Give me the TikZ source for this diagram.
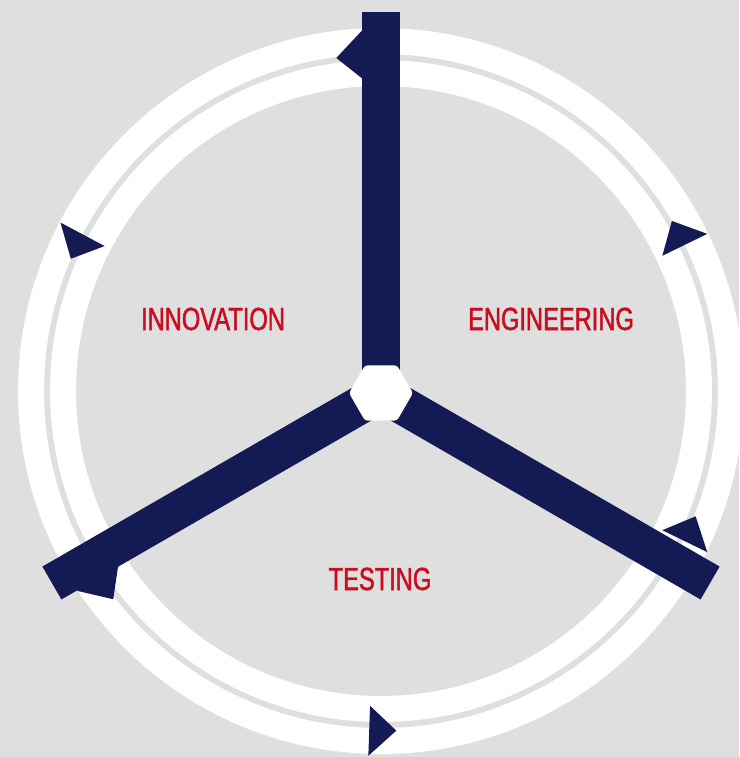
\documentclass[tikz,border=0pt]{standalone}
\usepackage{fontspec}
\setmainfont{Liberation Sans}[FakeStretch=0.74, FakeBold=1.5]
\usetikzlibrary{shapes,positioning}
\definecolor{navy}{RGB}{19,26,84}
\definecolor{label}{RGB}{200,14,32}
\definecolor{backdrop}{RGB}{223,223,223}
\tikzset{
  ring/.style  = {draw=white, line width=26pt},
  spoke/.style = {draw=navy, line width=38pt},
  hub/.style   = {regular polygon, regular polygon sides=6, fill=white,
                  minimum size=64pt, inner sep=0pt, rounded corners=3pt},
  phase/.style = {text=label, font=\fontsize{32}{32}\selectfont, inner sep=0pt}
}

\begin{document}
\begin{tikzpicture}[x=1pt, y=1pt]

% fond et anneaux
\fill[backdrop] (-381,-364) rectangle (358,393);
\useasboundingbox (-381,-364) rectangle (358,393);
\coordinate (c) at (0,0);
\draw[ring] (0,2) circle (318);
\draw[ring] (0,2) circle (350);

% fleches du cycle
\foreach \a in {93,152,213,268,334,26}
  \fill[navy] (\a:313) -- (\a+4.6:338) -- (\a:363) -- cycle;

% les trois bras
\coordinate (top) at (90:381);
\coordinate (left) at (210:380);
\coordinate (right) at (330:380);
\foreach \e in {top,left,right}
  \draw[spoke] (c) -- (\e);

\node[hub] (hub) at (c) {};

\node[phase] (innovation) at (-168,74) {INNOVATION};
\node[phase] (engineering) at (170,74) {ENGINEERING};
\node[phase] (testing) at (-1,-186) {TESTING};
\end{tikzpicture}
\end{document}
